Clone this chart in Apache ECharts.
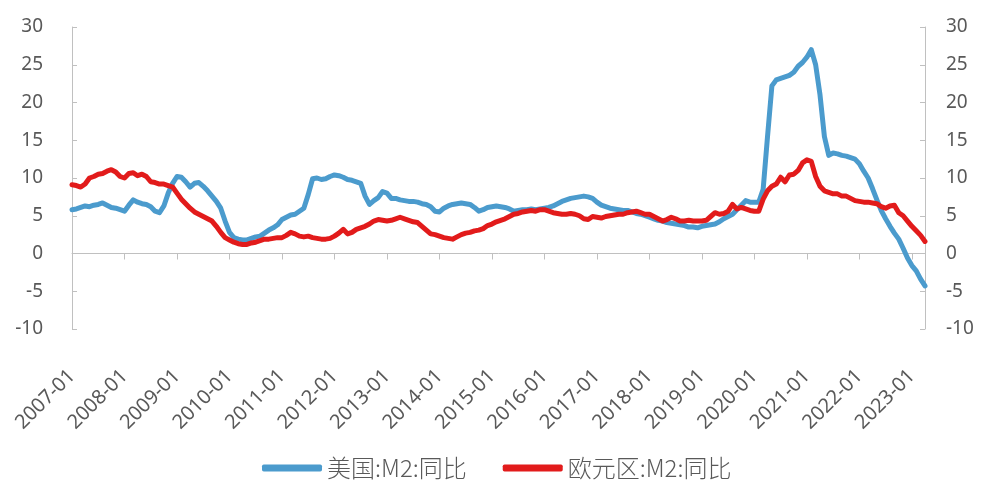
<!DOCTYPE html>
<html>
<head>
<meta charset="utf-8">
<script src="https://cdn.jsdelivr.net/npm/echarts@6/dist/echarts.min.js"></script>
<style>
html,body{margin:0;padding:0;background:#fff;}
#chart{width:982px;height:480px;}
</style>
</head>
<body>
<div id="chart"></div>
<script>
// Monthly categories 2007-01 .. 2023-04
var startYear = 2007, endYear = 2023, endMonth = 4;
var categories = [];
for (var y = startYear; y <= endYear; y++) {
  for (var m = 1; m <= 12; m++) {
    if (y === endYear && m > endMonth) break;
    categories.push(y + '-' + (m < 10 ? '0' + m : m));
  }
}

var seriesNames = ['美国:M2:同比', '欧元区:M2:同比'];

// US M2 YoY (%)
var usM2 = [
  5.8, 5.9, 6.1, 6.3, 6.2, 6.4, 6.5, 6.7, 6.4, 6.1, 6.0, 5.8,      // 2007
  5.6, 6.4, 7.1, 6.8, 6.6, 6.5, 6.2, 5.6, 5.4, 6.3, 8.0, 9.3,      // 2008
  10.2, 10.1, 9.5, 8.8, 9.3, 9.4, 8.9, 8.3, 7.6, 6.9, 6.0, 4.3,    // 2009
  2.8, 2.1, 1.9, 1.8, 1.8, 2.0, 2.2, 2.3, 2.7, 3.1, 3.4, 3.8,      // 2010
  4.5, 4.8, 5.1, 5.2, 5.6, 6.0, 7.8, 9.9, 10.0, 9.8, 9.9, 10.2,    // 2011
  10.4, 10.3, 10.1, 9.8, 9.7, 9.5, 9.3, 7.6, 6.5, 7.0, 7.4, 8.2,   // 2012
  8.0, 7.3, 7.3, 7.1, 7.0, 6.9, 6.9, 6.8, 6.6, 6.5, 6.2, 5.6,      // 2013
  5.5, 6.0, 6.3, 6.5, 6.6, 6.7, 6.6, 6.5, 6.1, 5.6, 5.8, 6.1,      // 2014
  6.2, 6.3, 6.2, 6.1, 5.9, 5.6, 5.7, 5.8, 5.8, 5.9, 5.8, 5.9,      // 2015
  6.0, 6.1, 6.3, 6.6, 6.9, 7.1, 7.3, 7.4, 7.5, 7.6, 7.5, 7.3,      // 2016
  6.8, 6.4, 6.2, 6.0, 5.9, 5.8, 5.7, 5.7, 5.5, 5.3, 5.2, 5.0,      // 2017
  4.8, 4.6, 4.4, 4.3, 4.1, 4.0, 3.9, 3.8, 3.7, 3.5, 3.5, 3.4,      // 2018
  3.6, 3.7, 3.8, 3.9, 4.2, 4.6, 4.9, 5.2, 5.8, 6.4, 7.0, 6.8,      // 2019
  6.8, 6.8, 8.5, 15.5, 22.2, 23.0, 23.2, 23.4, 23.6, 24.0, 24.8, 25.3, // 2020
  26.0, 27.0, 25.0, 21.0, 15.5, 13.0, 13.3, 13.2, 13.0, 12.9, 12.7, 12.5, // 2021
  11.9, 10.9, 10.0, 8.6, 7.1, 5.7, 4.6, 3.6, 2.7, 1.9, 0.7, -0.6,  // 2022
  -1.6, -2.3, -3.4, -4.3                                           // 2023
];

// Euro area M2 YoY (%)
var euM2 = [
  9.1, 9.0, 8.8, 9.2, 10.0, 10.2, 10.5, 10.6, 10.9, 11.1, 10.8, 10.2, // 2007
  10.0, 10.6, 10.7, 10.3, 10.5, 10.2, 9.5, 9.4, 9.2, 9.2, 9.0, 8.8,   // 2008
  8.0, 7.2, 6.6, 6.0, 5.5, 5.2, 4.9, 4.6, 4.3, 3.6, 2.8, 2.1,         // 2009
  1.8, 1.5, 1.3, 1.2, 1.2, 1.4, 1.5, 1.7, 1.9, 1.9, 2.0, 2.1,         // 2010
  2.1, 2.4, 2.8, 2.6, 2.3, 2.2, 2.3, 2.1, 2.0, 1.9, 1.9, 2.0,         // 2011
  2.3, 2.7, 3.2, 2.6, 2.8, 3.2, 3.4, 3.6, 3.9, 4.3, 4.5, 4.4,         // 2012
  4.3, 4.4, 4.6, 4.8, 4.6, 4.4, 4.2, 4.1, 3.6, 3.1, 2.6, 2.5,         // 2013
  2.3, 2.1, 2.0, 1.9, 2.2, 2.5, 2.7, 2.8, 3.0, 3.1, 3.3, 3.7,         // 2014
  3.9, 4.2, 4.4, 4.6, 4.9, 5.2, 5.3, 5.5, 5.6, 5.7, 5.6, 5.8,         // 2015
  5.8, 5.6, 5.4, 5.3, 5.2, 5.2, 5.3, 5.2, 5.0, 4.6, 4.5, 4.9,         // 2016
  4.8, 4.7, 4.9, 5.0, 5.1, 5.2, 5.2, 5.4, 5.5, 5.6, 5.4, 5.2,         // 2017
  5.2, 4.9, 4.6, 4.3, 4.5, 4.8, 4.6, 4.3, 4.3, 4.4, 4.3, 4.3,         // 2018
  4.3, 4.4, 4.9, 5.4, 5.2, 5.3, 5.6, 6.5, 5.9, 6.1, 5.9, 5.7,         // 2019
  5.6, 5.6, 7.2, 8.3, 8.9, 9.2, 10.1, 9.5, 10.4, 10.5, 11.0, 12.0,    // 2020
  12.4, 12.2, 10.2, 8.9, 8.3, 8.1, 7.9, 7.9, 7.6, 7.6, 7.3, 7.0,      // 2021
  6.9, 6.8, 6.8, 6.7, 6.6, 6.2, 6.0, 6.3, 6.4, 5.4, 5.0, 4.3,         // 2022
  3.6, 3.0, 2.4, 1.6                                                  // 2023
];

var yMin = -10, yMax = 30, yInterval = 5;

var axisColor = '#c0c0c0';
var labelColor = '#595959';
var fontFam = '"Noto Sans", "Noto Sans CJK SC", sans-serif';

var chart = echarts.init(document.getElementById('chart'), null, {renderer: 'canvas'});

function yAxisCfg(pos, margin) {
  return {
    type: 'value', position: pos, min: yMin, max: yMax, interval: yInterval,
    axisLine: {show: true, lineStyle: {color: axisColor, width: 1}},
    axisTick: {show: true, inside: true, length: 5, lineStyle: {color: axisColor}},
    splitLine: {show: false},
    axisLabel: {color: labelColor, fontSize: 19, fontFamily: fontFam, margin: margin}
  };
}

chart.setOption({
  animation: false,
  backgroundColor: '#ffffff',
  grid: {left: 72, right: 57, top: 27, bottom: 151, containLabel: false},
  legend: {
    data: seriesNames,
    left: 257, top: 451,
    itemWidth: 60, itemHeight: 7, itemGap: 36,
    icon: 'roundRect',
    textStyle: {color: labelColor, fontSize: 24, fontFamily: '"Noto Sans CJK SC", sans-serif', fontWeight: 300}
  },
  xAxis: [
    {
      type: 'category', data: categories, boundaryGap: false, position: 'bottom',
      axisLine: {show: true, onZero: true, lineStyle: {color: axisColor, width: 1}},
      axisTick: {show: true, interval: 11, length: 6, lineStyle: {color: axisColor}},
      axisLabel: {show: false},
      splitLine: {show: false}
    },
    {
      type: 'category', data: categories, boundaryGap: false, position: 'bottom',
      axisLine: {show: false, onZero: false},
      axisTick: {show: false},
      axisLabel: {show: true, interval: 11, rotate: 45, margin: 44, color: labelColor, fontSize: 20, fontFamily: fontFam},
      splitLine: {show: false}
    }
  ],
  yAxis: [yAxisCfg('left', 29), yAxisCfg('right', 21)],
  series: [
    {
      name: seriesNames[0], type: 'line', data: usM2, xAxisIndex: 0, yAxisIndex: 0,
      showSymbol: false, symbol: 'none',
      lineStyle: {color: '#4b9bcd', width: 5, join: 'round', cap: 'round'},
      itemStyle: {color: '#4b9bcd'}
    },
    {
      name: seriesNames[1], type: 'line', data: euM2, xAxisIndex: 0, yAxisIndex: 0,
      showSymbol: false, symbol: 'none',
      lineStyle: {color: '#e21b1b', width: 5, join: 'round', cap: 'round'},
      itemStyle: {color: '#e21b1b'}
    }
  ]
});
</script>
</body>
</html>
